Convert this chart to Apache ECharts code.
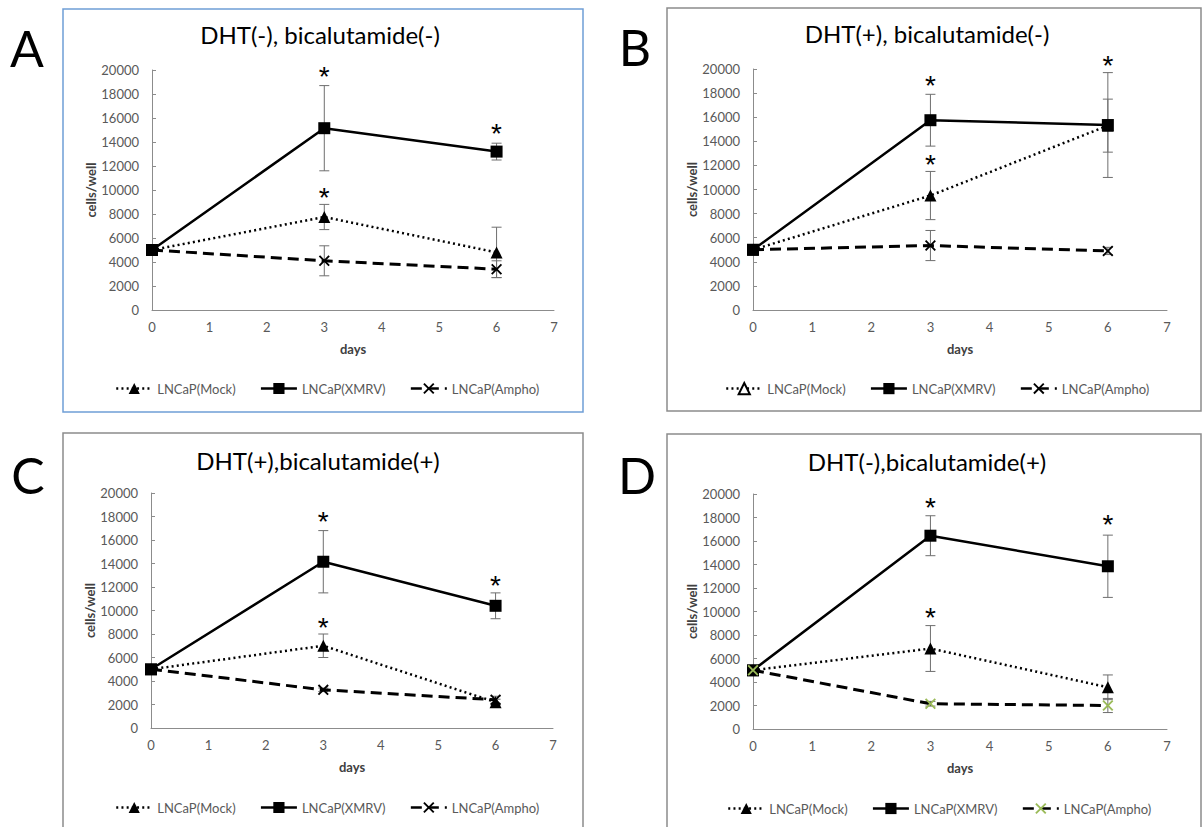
<!DOCTYPE html>
<html><head><meta charset="utf-8">
<script src="https://cdn.jsdelivr.net/npm/echarts@6/dist/echarts.min.js"></script>
<style>html,body{margin:0;padding:0;background:#fff}#c{width:1202px;height:827px}</style>
</head><body><div id="c"></div>
<script>
// ---------- data ----------
const days = [0, 3, 6];
const seriesNames = ['LNCaP(Mock)', 'LNCaP(XMRV)', 'LNCaP(Ampho)'];
const xAxisName = 'days';
const yAxisName = 'cells/well';

const A_title = 'DHT(-), bicalutamide(-)';
const A_mock = [5000, 7750, 4800];
const A_mockErr = [0, 1050, 2100];
const A_xmrv = [5000, 15150, 13200];
const A_xmrvErr = [0, 3550, 700];
const A_ampho = [5000, 4100, 3400];
const A_amphoErr = [0, 1250, 700];
const A_stars = [[3, 20000], [3, 9900], [6, 15200]];

const B_title = 'DHT(+), bicalutamide(-)';
const B_mock = [5000, 9500, 15300];
const B_mockErr = [0, 2000, 2200];
const B_xmrv = [5000, 15750, 15350];
const B_xmrvErr = [0, 2150, 4350];
const B_ampho = [5000, 5350, 4900];
const B_amphoErr = [0, 1250, 300];
const B_stars = [[3, 19100], [3, 12600], [6, 20800]];

const C_title = 'DHT(+),bicalutamide(+)';
const C_mock = [5000, 7000, 2200];
const C_mockErr = [0, 1000, 250];
const C_xmrv = [5000, 14150, 10400];
const C_xmrvErr = [0, 2650, 1100];
const C_ampho = [5000, 3250, 2400];
const C_amphoErr = [0, 150, 300];
const C_stars = [[3, 18100], [3, 9100], [6, 12650]];

const D_title = 'DHT(-),bicalutamide(+)';
const D_mock = [5000, 6850, 3550];
const D_mockErr = [0, 1950, 1050];
const D_xmrv = [5000, 16450, 13850];
const D_xmrvErr = [0, 1700, 2650];
const D_ampho = [5000, 2150, 2000];
const D_amphoErr = [0, 200, 600];
const D_stars = [[3, 19400], [3, 10000], [6, 17900]];

// ---------- layout ----------
const panels = [
  {key:'A', title:A_title, mock:A_mock, mockErr:A_mockErr, xmrv:A_xmrv, xmrvErr:A_xmrvErr, ampho:A_ampho, amphoErr:A_amphoErr, stars:A_stars,
   box:[63,9,520,403], boxColor:'#6f9ed6', letter:[27,48], titleXY:[320,36],
   grid:{left:152, top:70, width:402, height:240}, legend:[115,389], mockLegendEmpty:false, amphoColor:'#000', amphoTop:false},
  {key:'B', title:B_title, mock:B_mock, mockErr:B_mockErr, xmrv:B_xmrv, xmrvErr:B_xmrvErr, ampho:B_ampho, amphoErr:B_amphoErr, stars:B_stars,
   box:[667,8,534,403], boxColor:'#8c8c8c', letter:[635,47], titleXY:[927,35],
   grid:{left:753, top:69, width:414, height:241}, legend:[725,389], mockLegendEmpty:true, amphoColor:'#000', amphoTop:false},
  {key:'C', title:C_title, mock:C_mock, mockErr:C_mockErr, xmrv:C_xmrv, xmrvErr:C_xmrvErr, ampho:C_ampho, amphoErr:C_amphoErr, stars:C_stars,
   box:[63,433,520,420], boxColor:'#8c8c8c', letter:[28,475], titleXY:[318,462],
   grid:{left:151, top:493, width:402, height:235}, legend:[115,808], mockLegendEmpty:false, amphoColor:'#000', amphoTop:false},
  {key:'D', title:D_title, mock:D_mock, mockErr:D_mockErr, xmrv:D_xmrv, xmrvErr:D_xmrvErr, ampho:D_ampho, amphoErr:D_amphoErr, stars:D_stars,
   box:[667,434,534,420], boxColor:'#8c8c8c', letter:[637,475], titleXY:[927,463],
   grid:{left:753, top:494, width:414, height:235}, legend:[727,809], mockLegendEmpty:false, amphoColor:'#9bbb59', amphoTop:true}
];

const FONT = 'Lato';
const axisGray = '#8c8c8c';
const labelGray = '#595959';
const xPath = 'path://M0,1.2 L1.2,0 L5,3.8 L8.8,0 L10,1.2 L6.2,5 L10,8.8 L8.8,10 L5,6.2 L1.2,10 L0,8.8 L3.8,5 Z';

function errRender(params, api) {
  const x = api.value(0), m = api.value(1), e = api.value(2);
  const top = api.coord([x, m + e]), bot = api.coord([x, m - e]);
  const w = 5;
  const style = {stroke:'#6e6e6e', lineWidth:1};
  return {type:'group', children:[
    {type:'line', shape:{x1:top[0], y1:top[1], x2:bot[0], y2:bot[1]}, style},
    {type:'line', shape:{x1:top[0]-w, y1:top[1], x2:top[0]+w, y2:top[1]}, style},
    {type:'line', shape:{x1:bot[0]-w, y1:bot[1], x2:bot[0]+w, y2:bot[1]}, style}
  ]};
}
function starRender(params, api) {
  const p = api.coord([api.value(0), api.value(1)]);
  return {type:'text', x:p[0], y:p[1] + 6,
    style:{text:'*', fontSize:28, fontFamily:'Liberation Sans', fill:'#000', align:'center', verticalAlign:'middle'}};
}

const option = {animation:false, backgroundColor:'#fff', title:[], grid:[], xAxis:[], yAxis:[], legend:[], series:[], graphic:[]};

panels.forEach((p, i) => {
  option.graphic.push({type:'rect', shape:{x:p.box[0], y:p.box[1], width:p.box[2], height:p.box[3]},
    style:{fill:'none', stroke:p.boxColor, lineWidth:1.5}, silent:true});
  option.graphic.push({type:'text', x:p.letter[0], y:p.letter[1],
    style:{text:p.key, fontSize:50, fontFamily:FONT, fill:'#000', align:'center', verticalAlign:'middle'}});
  option.title.push({text:p.title, left:p.titleXY[0], top:p.titleXY[1] - 14, textAlign:'center', padding:0,
    textStyle:{fontSize:24, fontWeight:'normal', color:'#000', fontFamily:FONT}});
  option.grid.push(Object.assign({containLabel:false}, p.grid));
  option.xAxis.push({type:'value', gridIndex:i, min:0, max:7, interval:1,
    name:xAxisName, nameLocation:'middle', nameGap:32,
    nameTextStyle:{fontSize:13, fontWeight:'bold', color:'#404040', fontFamily:FONT},
    axisLine:{lineStyle:{color:axisGray, width:1}}, axisTick:{show:false}, splitLine:{show:false},
    axisLabel:{fontSize:13, color:labelGray, fontFamily:FONT, margin:10, formatter: v => String(v)}});
  option.yAxis.push({type:'value', gridIndex:i, min:0, max:20000, interval:2000,
    name:yAxisName, nameLocation:'middle', nameGap:52,
    nameTextStyle:{fontSize:13, fontWeight:'bold', color:'#404040', fontFamily:FONT},
    axisLine:{show:true, lineStyle:{color:axisGray, width:1}}, axisTick:{show:true, inside:true, length:4, lineStyle:{color:axisGray}},
    splitLine:{show:false},
    axisLabel:{fontSize:13, color:labelGray, fontFamily:FONT, margin:13, formatter: v => String(v)}});
  const nm = seriesNames.map(s => p.key + '|' + s);
  option.legend.push({data:nm, left:p.legend[0], top:p.legend[1] - 7, padding:0, itemGap:24,
    itemWidth:36, itemHeight:14, selectedMode:false,
    formatter: n => n.split('|')[1],
    textStyle:{fontSize:13, color:labelGray, fontFamily:FONT},
    lineStyle:{width:2.5}});
  const mockData = days.map((d, j) => ({value:[d, p.mock[j]], symbol:'triangle'}));
  option.series.push({type:'line', name:nm[0], xAxisIndex:i, yAxisIndex:i, data:mockData,
    symbol: p.mockLegendEmpty ? 'emptyTriangle' : 'triangle', symbolSize:12,
    lineStyle:{color:'#000', width:2.5, type:[2,3.2]}, itemStyle:{color:'#000'}, z:3});
  option.series.push({type:'line', name:nm[1], xAxisIndex:i, yAxisIndex:i,
    data:days.map((d, j) => [d, p.xmrv[j]]), symbol:'rect', symbolSize:12,
    lineStyle:{color:'#000', width:2.5}, itemStyle:{color:'#000'}, z:4});
  option.series.push({type:'line', name:nm[2], xAxisIndex:i, yAxisIndex:i,
    data:days.map((d, j) => [d, p.ampho[j]]), symbol:xPath, symbolSize:11,
    lineStyle:{color:'#000', width:3, type:[11,6]}, itemStyle:{color:p.amphoColor}, z: p.amphoTop ? 6 : 2});
  const errRows = [];
  days.forEach((d, j) => {
    if (p.mockErr[j] > 0) errRows.push([d, p.mock[j], p.mockErr[j]]);
    if (p.xmrvErr[j] > 0) errRows.push([d, p.xmrv[j], p.xmrvErr[j]]);
    if (p.amphoErr[j] > 0) errRows.push([d, p.ampho[j], p.amphoErr[j]]);
  });
  option.series.push({type:'custom', name:'err' + p.key, xAxisIndex:i, yAxisIndex:i, data:errRows,
    renderItem:errRender, encode:{x:0, y:1}, z:1, silent:true});
  option.series.push({type:'custom', name:'star' + p.key, xAxisIndex:i, yAxisIndex:i, data:p.stars,
    renderItem:starRender, encode:{x:0, y:1}, z:7, clip:false, silent:true});
});

const chart = echarts.init(document.getElementById('c'), null, {renderer:'svg'});
chart.setOption(option);
</script></body></html>
